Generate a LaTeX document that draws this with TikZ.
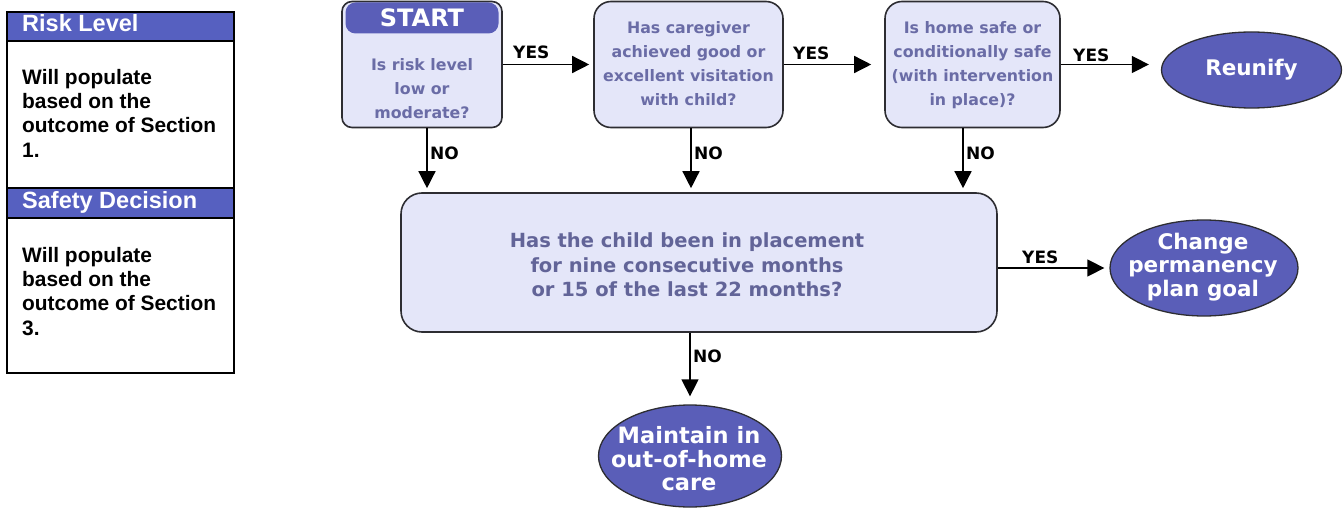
\documentclass[tikz,border=0pt]{standalone}
\usepackage{fontspec}
\setmainfont{DejaVu Sans}
\newfontfamily\arialf{Liberation Sans}
\usetikzlibrary{arrows.meta,shapes.misc,shapes.geometric}
\definecolor{boxfill}{RGB}{228,230,249}
\definecolor{boxtext}{RGB}{106,108,166}
\definecolor{bigtext}{RGB}{98,100,152}
\definecolor{ovalfill}{RGB}{90,94,184}
\definecolor{hdrfill}{RGB}{86,96,192}
\definecolor{edgecol}{RGB}{45,45,50}
\tikzset{
  qbox/.style={draw=edgecol, line width=1.6pt, fill=boxfill, rounded corners=17pt, inner sep=0pt},
  qtext/.style={text=boxtext, font=\fontsize{15.8}{24}\selectfont\bfseries, align=center, inner sep=0pt},
  oval/.style={ellipse, draw=edgecol, line width=1.3pt, fill=ovalfill, inner sep=0pt},
  ovaltext/.style={text=white, font=\fontsize{21.5}{23.5}\selectfont\bfseries, align=center, inner sep=0pt},
  conn/.style={line width=1.4pt, -{Triangle[length=17pt,width=17pt]}},
  lbl/.style={font=\fontsize{17}{17}\selectfont\bfseries, inner sep=0pt, anchor=west},
  panelline/.style={draw=black, line width=1.6pt},
  hdrtext/.style={text=white, font=\arialf\bfseries\fontsize{23.5}{23.5}\selectfont, inner sep=0pt, anchor=base west},
  bodytext/.style={font=\arialf\bfseries\fontsize{20.9}{24.3}\selectfont, inner sep=0pt, anchor=north west, align=left}
}
\begin{document}
\begin{tikzpicture}[x=1pt,y=-1pt]
\useasboundingbox[fill=white] (0,0) rectangle (1343,508);

% ---- left panel ----
\node[panelline, fill=white, minimum width=227pt, minimum height=361pt, anchor=north west, inner sep=0pt] (panel) at (6,11) {};
\node[panelline, fill=hdrfill, minimum width=227pt, minimum height=29pt, anchor=north west, inner sep=0pt] (h1) at (6,11) {};
\node[hdrtext] (h1t) at (22,31.5) {Risk Level};
\node[bodytext] (body1) at (22,69) {Will populate\\based on the\\outcome of Section\\1.};
\node[panelline, fill=hdrfill, minimum width=227pt, minimum height=30pt, anchor=north west, inner sep=0pt] (h2) at (6,187) {};
\node[hdrtext] (h2t) at (22,208.5) {Safety Decision};
\node[bodytext] (body2) at (22,247) {Will populate\\based on the\\outcome of Section\\3.};

% ---- decision boxes ----
\node[draw=edgecol, line width=1.6pt, fill=boxfill, inner sep=0pt, rounded corners=10pt,
      minimum width=160pt, minimum height=126pt] (b1) at (422,64.5) {};
\node[fill=ovalfill, rounded corners=10pt, minimum width=153pt, minimum height=31pt, inner sep=0pt,
      text=white, font=\fontsize{24}{24}\selectfont\bfseries] (start) at (422,18) {START};
\node[qtext] (t1) at (422,89) {Is risk level\\low or\\moderate?};

\node[qbox, minimum width=189pt, minimum height=126pt] (b2) at (688.5,64.5) {};
\node[qtext] (t2) at (688.5,64) {Has caregiver\\achieved good or\\excellent visitation\\with child?};

\node[qbox, minimum width=175pt, minimum height=126pt] (b3) at (972.5,64.5) {};
\node[qtext] (t3) at (972.5,65) {Is home safe or\\conditionally safe\\(with intervention\\in place)?};

\node[qbox, rounded corners=21pt, minimum width=596pt, minimum height=139pt] (big) at (699,262.5) {};
\node[text=bigtext, font=\fontsize{19.5}{24.5}\selectfont\bfseries, align=center, inner sep=0pt] (bigt) at (687,265)
  {Has the child been in placement\\for nine consecutive months\\or 15 of the last 22 months?};

% ---- outcomes ----
\node[oval, minimum width=180pt, minimum height=76pt] (reunify) at (1251.5,70) {};
\node[ovaltext] (reunifyt) at (reunify) {Reunify};
\node[oval, minimum width=188pt, minimum height=96pt] (change) at (1204,268) {};
\node[ovaltext] (changet) at (1203,267) {Change\\permanency\\plan goal};
\node[oval, minimum width=183pt, minimum height=102pt] (maintain) at (690,456) {};
\node[ovaltext, font=\fontsize{22.5}{23.5}\selectfont\bfseries] (maintaint) at (689,459) {Maintain in\\out-of-home\\care};

% ---- connectors ----
\draw[conn, shorten >=4pt] (b1.east) -- (b2.west);
\draw[conn, shorten >=13pt] (b2.east) -- (b3.west);
\draw[conn, shorten >=12pt] (b3.east) -- (b3.east -| reunify.west);
\coordinate (d1) at ([xshift=5pt]b1.south);
\coordinate (d2) at ([xshift=2.5pt]b2.south);
\coordinate (d3) at ([xshift=-9.5pt]b3.south);
\draw[conn, shorten >=4pt] (d1) -- (d1 |- big.north);
\draw[conn, shorten >=4pt] (d2) -- (d2 |- big.north);
\draw[conn, shorten >=4pt] (d3) -- (d3 |- big.north);
\draw[conn, shorten >=5pt] (big.east |- change.west) -- (change.west);
\draw[conn, shorten >=8pt] (big.south -| maintain.north) -- (maintain.north);

% ---- labels ----
\node[lbl] (y1) at (513,52) {YES};
\node[lbl] (y2) at (793,53) {YES};
\node[lbl] (y3) at (1073,55) {YES};
\node[lbl] (y4) at (1022,257) {YES};
\node[lbl] (n1) at (430,153) {NO};
\node[lbl] (n2) at (694,153) {NO};
\node[lbl] (n3) at (966,153) {NO};
\node[lbl] (n4) at (693,356) {NO};
\end{tikzpicture}
\end{document}
